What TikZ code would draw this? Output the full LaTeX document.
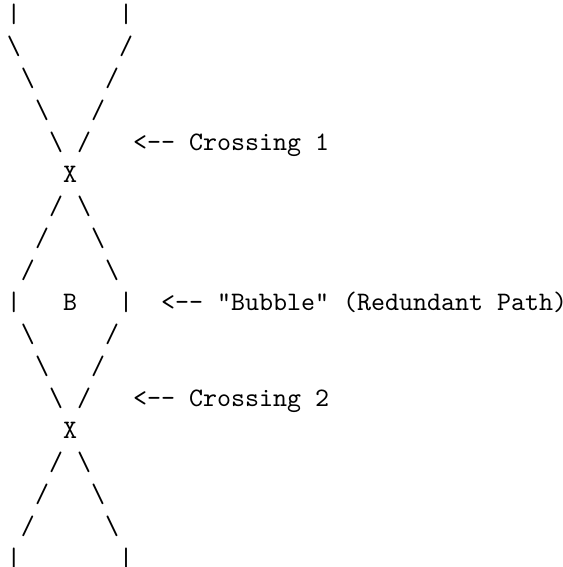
\documentclass[tikz,border=0pt]{standalone}
\usepackage{fontspec}
\setmonofont{lmmono10-regular.otf}
\tikzset{
  art/.style={inner sep=0pt, outer sep=0pt, anchor=base, font=\fontsize{20}{24}\selectfont\ttfamily},
  lbl/.style={inner sep=0pt, outer sep=0pt, anchor=base west, font=\fontsize{20}{24}\selectfont\ttfamily}
}
\newcommand\artch[4]{\node[art] (#1) at ({14+14*#2},{22.5+32*#3}) {#4};}
\newcommand\artlbl[4]{\node[lbl] (#1) at ({7+14*#2},{22.5+32*#3}) {#4};}
\begin{document}
\begin{tikzpicture}[x=0.75pt,y=-0.75pt]
\useasboundingbox (0,0) rectangle (563,567);
% row 0
\artch{a0l}{0}{0}{|}\artch{a0r}{8}{0}{|}
% rows 1-4
\artch{a1l}{0}{1}{\textbackslash}\artch{a1r}{8}{1}{/}
\artch{a2l}{1}{2}{\textbackslash}\artch{a2r}{7}{2}{/}
\artch{a3l}{2}{3}{\textbackslash}\artch{a3r}{6}{3}{/}
\artch{a4l}{3}{4}{\textbackslash}\artch{a4r}{5}{4}{/}
\artlbl{c1}{9}{4}{<-- Crossing 1}
% crossing 1
\artch{x1}{4}{5}{X}
\artch{a6l}{3}{6}{/}\artch{a6r}{5}{6}{\textbackslash}
\artch{a7l}{2}{7}{/}\artch{a7r}{6}{7}{\textbackslash}
\artch{a8l}{1}{8}{/}\artch{a8r}{7}{8}{\textbackslash}
% bubble
\artch{a9l}{0}{9}{|}\artch{bub}{4}{9}{B}\artch{a9r}{8}{9}{|}
\artlbl{bl}{11}{9}{<-- "Bubble" (Redundant Path)}
\artch{a10l}{1}{10}{\textbackslash}\artch{a10r}{7}{10}{/}
\artch{a11l}{2}{11}{\textbackslash}\artch{a11r}{6}{11}{/}
\artch{a12l}{3}{12}{\textbackslash}\artch{a12r}{5}{12}{/}
\artlbl{c2}{9}{12}{<-- Crossing 2}
% crossing 2
\artch{x2}{4}{13}{X}
\artch{a14l}{3}{14}{/}\artch{a14r}{5}{14}{\textbackslash}
\artch{a15l}{2}{15}{/}\artch{a15r}{6}{15}{\textbackslash}
\artch{a16l}{1}{16}{/}\artch{a16r}{7}{16}{\textbackslash}
\artch{a17l}{0}{17}{|}\artch{a17r}{8}{17}{|}
\end{tikzpicture}
\end{document}
